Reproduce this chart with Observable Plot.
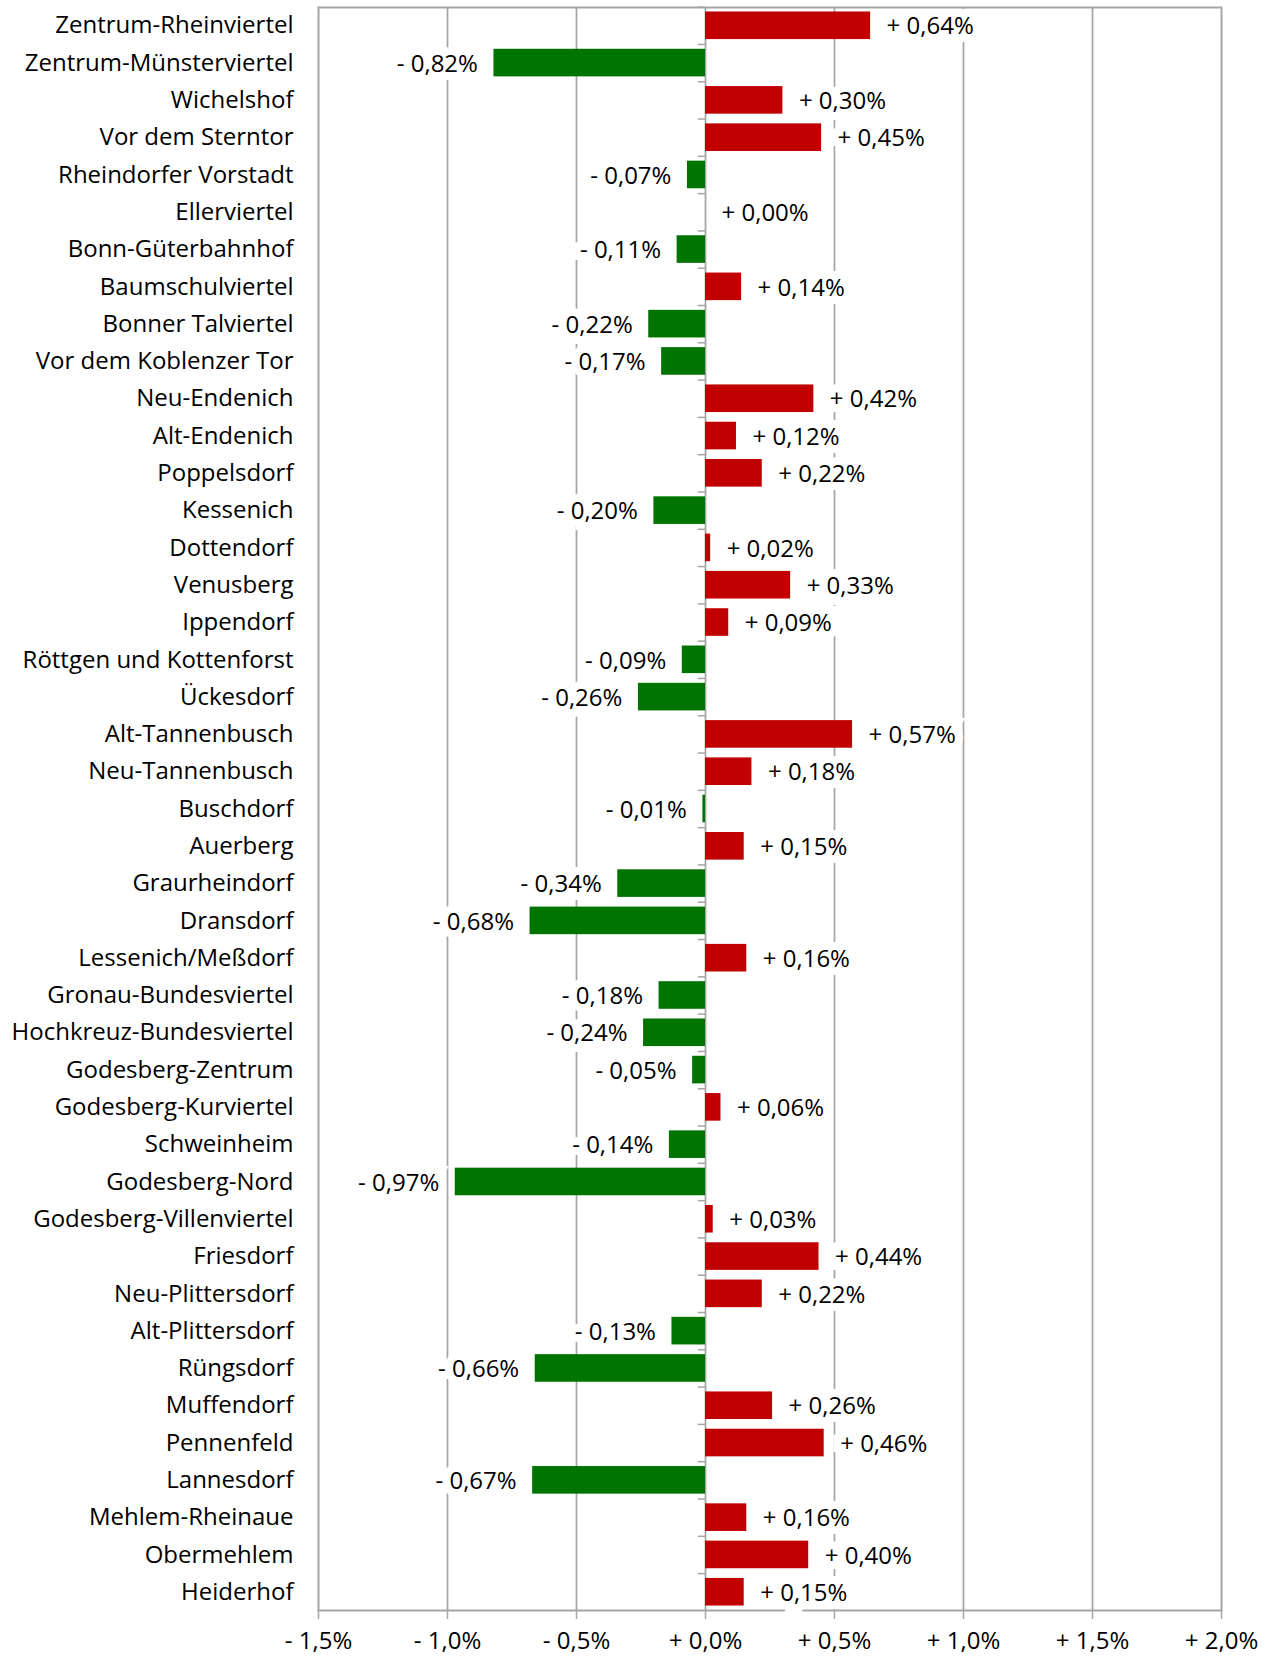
<!DOCTYPE html>
<html>
<head>
<meta charset="utf-8">
<script src="https://cdn.jsdelivr.net/npm/d3@7"></script>
<script src="https://cdn.jsdelivr.net/npm/@observablehq/plot@0.6"></script>
<style>
  html, body { margin: 0; padding: 0; background: #ffffff; }
  #chart svg { display: block; }
</style>
</head>
<body>
<div id="chart"></div>
<script>
const districts = [
  "Zentrum-Rheinviertel", "Zentrum-Münsterviertel", "Wichelshof", "Vor dem Sterntor",
  "Rheindorfer Vorstadt", "Ellerviertel", "Bonn-Güterbahnhof", "Baumschulviertel",
  "Bonner Talviertel", "Vor dem Koblenzer Tor", "Neu-Endenich", "Alt-Endenich",
  "Poppelsdorf", "Kessenich", "Dottendorf", "Venusberg", "Ippendorf",
  "Röttgen und Kottenforst", "Ückesdorf", "Alt-Tannenbusch", "Neu-Tannenbusch",
  "Buschdorf", "Auerberg", "Graurheindorf", "Dransdorf", "Lessenich/Meßdorf",
  "Gronau-Bundesviertel", "Hochkreuz-Bundesviertel", "Godesberg-Zentrum",
  "Godesberg-Kurviertel", "Schweinheim", "Godesberg-Nord", "Godesberg-Villenviertel",
  "Friesdorf", "Neu-Plittersdorf", "Alt-Plittersdorf", "Rüngsdorf", "Muffendorf",
  "Pennenfeld", "Lannesdorf", "Mehlem-Rheinaue", "Obermehlem", "Heiderhof"
];
const changes = [
  0.64, -0.82, 0.30, 0.45,
  -0.07, 0.00, -0.11, 0.14,
  -0.22, -0.17, 0.42, 0.12,
  0.22, -0.20, 0.02, 0.33, 0.09,
  -0.09, -0.26, 0.57, 0.18,
  -0.01, 0.15, -0.34, -0.68, 0.16,
  -0.18, -0.24, -0.05,
  0.06, -0.14, -0.97, 0.03,
  0.44, 0.22, -0.13, -0.66, 0.26,
  0.46, -0.67, 0.16, 0.40, 0.15
];
const xTicks = [-1.5, -1.0, -0.5, 0.0, 0.5, 1.0, 1.5, 2.0];
const gridTicks = [-1.0, -0.5, 0.0, 0.5, 1.0, 1.5];

const data = districts.map((name, i) => ({name, value: changes[i]}));

const RED = "#c00000";
const GREEN = "#007400";
const GRAY = "#a6a6a6";
const FONT = "Open Sans";
const FS = 24;

const W = 1272, H = 1656;
const mTop = 7, mBottom = 46, mLeft = 318, mRight = 51;
const step = (H - mTop - mBottom) / districts.length;

const fmtVal = v => (v >= 0 ? "+ " : "- ") + Math.abs(v).toFixed(2).replace(".", ",") + "%";
const fmtTick = v => (v >= 0 ? "+ " : "- ") + Math.abs(v).toFixed(1).replace(".", ",") + "%";

const chart = Plot.plot({
  width: W,
  height: H,
  marginTop: mTop,
  marginBottom: mBottom,
  marginLeft: mLeft,
  marginRight: mRight,
  style: {fontFamily: FONT, fontSize: FS + "px", color: "#000", background: "#fff"},
  x: {domain: [-1.5, 2.0], label: null},
  y: {domain: districts, paddingInner: 0.26, paddingOuter: 0.12, round: false, label: null},
  marks: [
    Plot.ruleX(gridTicks, {stroke: GRAY, strokeWidth: 1.75}),
    Plot.frame({stroke: GRAY, strokeWidth: 2}),
    Plot.ruleY(districts, {y: d => d, x1: -0.028, x2: 0, dy: -step / 2, stroke: GRAY, strokeWidth: 1.5}),
    Plot.text(data, {
      filter: d => d.value >= 0, y: "name", x: "value", text: d => fmtVal(d.value),
      textAnchor: "start", dx: 16, dy: 1, fontSize: FS, fill: "#000",
      stroke: "white", strokeWidth: 16, strokeLinejoin: "miter"
    }),
    Plot.text(data, {
      filter: d => d.value < 0, y: "name", x: "value", text: d => fmtVal(d.value),
      textAnchor: "end", dx: -16, dy: 1, fontSize: FS, fill: "#000",
      stroke: "white", strokeWidth: 16, strokeLinejoin: "miter"
    }),
    Plot.barX(data, {filter: d => d.value >= 0, y: "name", x: "value", fill: RED}),
    Plot.barX(data, {filter: d => d.value < 0, y: "name", x: "value", fill: GREEN}),
    Plot.axisY({tickSize: 0, tickPadding: 25, fontSize: FS, fill: "#000", label: null}),
    Plot.axisX({ticks: xTicks, tickSize: 9, tickFormat: () => "", stroke: GRAY, strokeWidth: 1.5, label: null}),
    Plot.axisX({ticks: xTicks, tickSize: 0, tickPadding: 21, tickFormat: fmtTick, fontSize: FS, fill: "#000", label: null})
  ]
});

document.getElementById("chart").appendChild(chart);
</script>
</body>
</html>
